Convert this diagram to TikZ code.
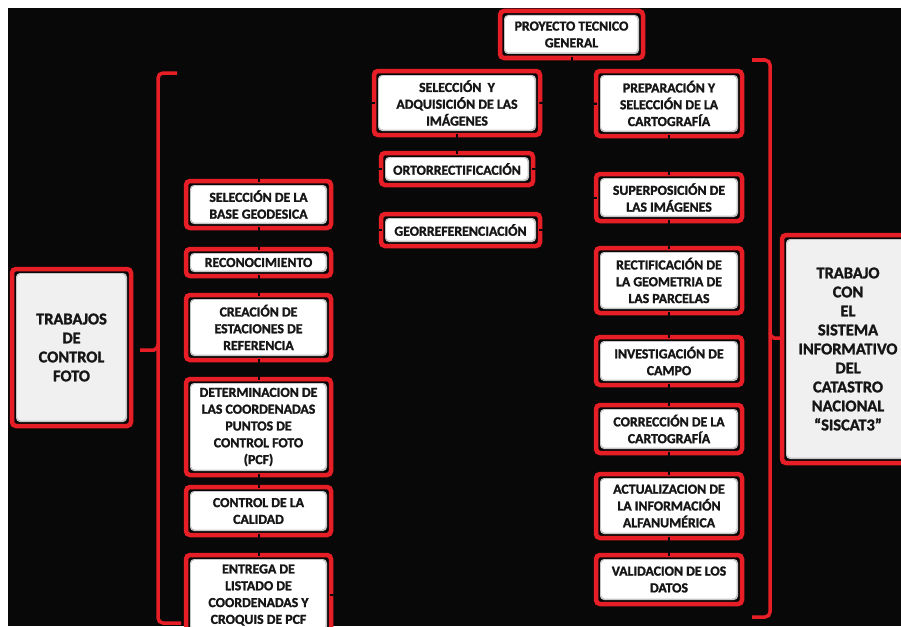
\documentclass[tikz,border=0pt]{standalone}
\usepackage{fontspec}
\setmainfont{Carlito}[BoldFeatures={FakeBold=1.6}]
\definecolor{bred}{RGB}{232,30,38}
\definecolor{bgblack}{RGB}{8,8,8}
\definecolor{txt}{RGB}{22,22,22}
\newcommand\boxinside[1]{%
  \fill[gray!45] ([shift={(4pt,4pt)}]path picture bounding box.south west) rectangle ([shift={(-4pt,-4pt)}]path picture bounding box.north east);
  \fill[#1] ([shift={(5pt,5.5pt)}]path picture bounding box.south west) rectangle ([shift={(-5.5pt,-5pt)}]path picture bounding box.north east);}
\tikzset{
  box/.style={draw=bred, line width=4.5pt, fill=bgblack, rounded corners=4pt, inner sep=0pt,
    align=center, text=txt, font=\bfseries\fontsize{13.8}{16.8}\selectfont,
    path picture={\boxinside{white}}},
  bigbox/.style={draw=bred, line width=4.5pt, fill=bgblack, rounded corners=4pt, inner sep=0pt,
    align=center, text=txt, font=\bfseries\fontsize{16.4}{19}\selectfont,
    path picture={\boxinside{gray!12}}},
  conn/.style={draw=bgblack, line width=2pt, shorten <=-3pt, shorten >=-3pt},
  brace/.style={draw=bred, line width=3.5pt, rounded corners=5pt}
}
\begin{document}
\begin{tikzpicture}[x=1pt,y=-1pt]
\useasboundingbox (0,0) rectangle (901,626);
\clip (0,0) rectangle (901,626);
\fill[white] (0,0) rectangle (901,626);
\fill[bgblack] (8,8) rectangle (901,626);

% top / middle column
\node[box, minimum width=143, minimum height=47] (proy) at (571.5,34.5) {PROYECTO TECNICO\\GENERAL};
\node[box, minimum width=166, minimum height=64] (selimg) at (457,103) {SELECCIÓN\ \ Y\\ADQUISICIÓN DE LAS\\IMÁGENES};
\node[box, minimum width=152, minimum height=32] (orto) at (457,169) {ORTORRECTIFICACIÓN};
\node[box, minimum width=159, minimum height=32] (geo) at (460.5,230) {GEORREFERENCIACIÓN};

% right column
\node[box, minimum width=146, minimum height=65] (prep) at (669,103.5) {PREPARACIÓN Y\\SELECCIÓN DE LA\\CARTOGRAFÍA};
\node[box, minimum width=146, minimum height=47] (super) at (669,197.5) {SUPERPOSICIÓN DE\\LAS IMÁGENES};
\node[box, minimum width=146, minimum height=65] (rect) at (669,280.5) {RECTIFICACIÓN DE\\LA GEOMETRIA DE\\LAS PARCELAS};
\node[box, minimum width=146, minimum height=48] (inv) at (669,361) {INVESTIGACIÓN DE\\CAMPO};
\node[box, minimum width=146, minimum height=48] (corr) at (669,429) {CORRECCIÓN DE LA\\CARTOGRAFÍA};
\node[box, minimum width=146, minimum height=64] (act) at (669,506) {ACTUALIZACION DE\\LA INFORMACIÓN\\ALFANUMÉRICA};
\node[box, minimum width=146, minimum height=49] (val) at (669,579.5) {VALIDACION DE LOS\\DATOS};

% left column
\node[box, minimum width=145, minimum height=47] (base) at (258.5,204.5) {SELECCIÓN DE LA\\BASE GEODESICA};
\node[box, minimum width=145, minimum height=27] (recon) at (258.5,262.5) {RECONOCIMIENTO};
\node[box, minimum width=145, minimum height=65] (crea) at (258.5,327.5) {CREACIÓN DE\\ESTACIONES DE\\REFERENCIA};
\node[box, minimum width=145, minimum height=96] (det) at (258.5,427) {DETERMINACION DE\\LAS COORDENADAS\\PUNTOS DE\\CONTROL FOTO\\(PCF)};
\node[box, minimum width=145, minimum height=48] (cal) at (258.5,511) {CONTROL DE LA\\CALIDAD};
\node[box, minimum width=145, minimum height=80] (entr) at (258.5,595) {ENTREGA DE\\LISTADO DE\\COORDENADAS Y\\CROQUIS DE PCF};

% big side boxes
\node[bigbox, minimum width=119, minimum height=157] (lbig) at (71.5,347.5) {TRABAJOS\\DE\\CONTROL\\FOTO};
\node[bigbox, minimum width=132, minimum height=228] (rbig) at (848,349) {TRABAJO\\CON\\EL\\SISTEMA\\INFORMATIVO\\DEL\\CATASTRO\\NACIONAL\\“SISCAT3”};

% braces
\coordinate (ltip) at (140,350);
\coordinate (rtip) at (rbig.west |- 0,338);
\draw[brace] (177,73) -- (158,73) -- (158,623) -- (181,623);
\draw[brace, rounded corners=2pt] (158,345) -- (156,350) -- (ltip);
\draw[brace] (752,60) -- (770,60) -- (770,617) -- (752,617);
\draw[brace, rounded corners=2pt] (770,333) -- (772,338) -- (rtip);

% black connectors (visible only as notches in the red frames)
\coordinate (j1) at (proy.south |- selimg.east);
\draw[conn] (proy.south) -- (j1);
\draw[conn] (selimg.east) -- (prep.west);
\draw[conn] (selimg.south) -- (orto.north);
\draw[conn] (orto.east) -- ++(12,0) |- (geo.east);
\draw[conn] (selimg.west) -- ++(-12,0) |- (orto.west);
\draw[conn] (orto.west) -- ++(-12,0) |- (geo.west);
\draw[conn] (prep.west) -- ++(-12,0) |- (super.west);
\draw[conn] (super.south) -- (rect.north);
\draw[conn] (prep.south) -- (super.north);
\draw[conn] (rect.south) -- (inv.north);
\draw[conn] (inv.south) -- (corr.north);
\draw[conn] (corr.south) -- (act.north);
\draw[conn] (act.south) -- (val.north);
\coordinate (ltop) at (base.north |- 0,165);
\draw[conn] (ltop) -- (base.north);
\draw[conn] (base.south) -- (recon.north);
\draw[conn] (recon.south) -- (crea.north);
\draw[conn] (crea.south) -- (det.north);
\draw[conn] (det.south) -- (cal.north);
\draw[conn] (cal.south) -- (entr.north);
\coordinate (eout) at ([xshift=18pt]entr.east);
\draw[conn] (entr.east) -- (eout);
\end{tikzpicture}
\end{document}
